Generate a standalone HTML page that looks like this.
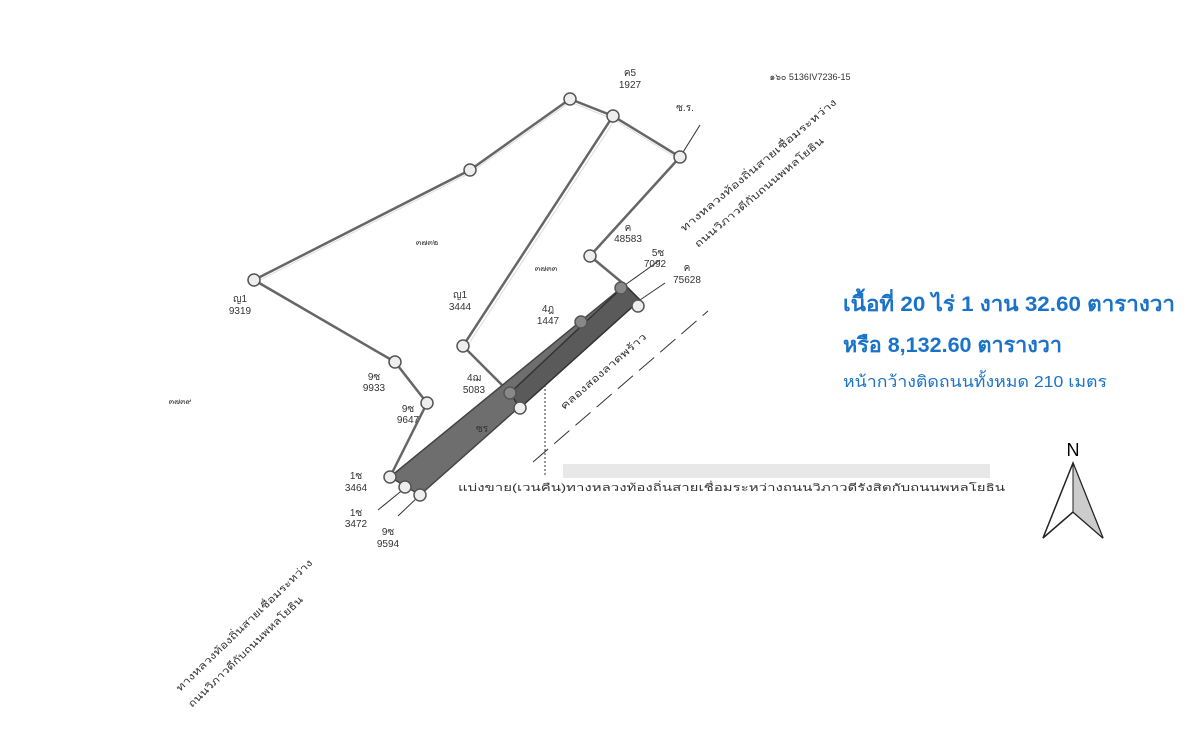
<!DOCTYPE html>
<html><head><meta charset="utf-8"><style>
html,body{margin:0;padding:0;background:#fff;width:1200px;height:737px;overflow:hidden}
svg{display:block}
.t{font-family:"Liberation Sans","DejaVu Sans",sans-serif;font-size:10px;fill:#333}
.b{font-family:"Liberation Sans","DejaVu Sans",sans-serif;fill:#1a73c8}
</style></head><body>
<svg width="1200" height="737" viewBox="0 0 1200 737" xmlns="http://www.w3.org/2000/svg">
<g stroke="#666" stroke-width="2.5" fill="none">
<polyline points="254,280 470,170 570,99 613,116 680,157"/>
<polyline points="613,116 463,346 510,393"/>
<polyline points="680,157 590,256 625,285"/>
<polyline points="254,280 395,362 427,403 390,477"/>
</g>
<g stroke="#ddd" stroke-width="1" fill="none">
<polyline points="254,283 470,173 570,102 613,119 680,160"/>
<polyline points="616,118 466,348"/>
</g>
<polygon points="390,477 625,285 640,300 420,495" fill="#6e6e6e" stroke="#444" stroke-width="1.5"/>
<polygon points="510,393 625,285 640,300 520,408" fill="#5a5a5a" stroke="#333" stroke-width="1.5"/>
<g stroke="#333" stroke-width="1" fill="none">
<line x1="680" y1="157" x2="700" y2="125"/>
<line x1="625" y1="285" x2="660" y2="260"/>
<line x1="640" y1="300" x2="665" y2="283"/>
<line x1="405" y1="488" x2="378" y2="510"/>
<line x1="420" y1="495" x2="398" y2="516"/>
<line x1="533" y1="462" x2="708" y2="311" stroke-dasharray="20,8"/>
<line x1="545" y1="385" x2="545" y2="477" stroke-dasharray="2,2"/>
</g>
<rect x="563" y="464" width="427" height="14" fill="#e8e8e8"/>
<g fill="#eee" stroke="#555" stroke-width="1.5">
<circle cx="254" cy="280" r="6"/><circle cx="470" cy="170" r="6"/><circle cx="570" cy="99" r="6"/>
<circle cx="613" cy="116" r="6"/><circle cx="680" cy="157" r="6"/><circle cx="463" cy="346" r="6"/>
<circle cx="590" cy="256" r="6"/><circle cx="395" cy="362" r="6"/><circle cx="427" cy="403" r="6"/>
<circle cx="390" cy="477" r="6"/><circle cx="405" cy="487" r="6"/><circle cx="420" cy="495" r="6"/>
<circle cx="510" cy="393" r="6" fill="#888"/><circle cx="520" cy="408" r="6"/><circle cx="581" cy="322" r="6" fill="#888"/>
<circle cx="621" cy="288" r="6" fill="#888"/><circle cx="638" cy="306" r="6"/>
</g>
<g class="t" text-anchor="middle">
<text x="630" y="76">ค5</text><text x="630" y="88">1927</text>
<text x="685" y="111">ซ.ร.</text>
<text x="810" y="80" font-size="9">๑๖๐  5136IV7236-15</text>
<text x="628" y="231">ค</text><text x="628" y="242">48583</text>
<text x="658" y="256">5ซ</text><text x="655" y="267">7092</text>
<text x="687" y="271">ค</text><text x="687" y="283">75628</text>
<text x="548" y="312">4ฎ</text><text x="548" y="324">1447</text>
<text x="460" y="298">ญ1</text><text x="460" y="310">3444</text>
<text x="474" y="381">4ฌ</text><text x="474" y="393">5083</text>
<text x="427" y="245" font-size="8">๓๗๓๒</text>
<text x="546" y="271" font-size="8">๓๗๓๓</text>
<text x="180" y="404" font-size="8">๓๗๓๙</text>
<text x="240" y="302">ญ1</text><text x="240" y="314">9319</text>
<text x="374" y="380">9ซ</text><text x="374" y="391">9933</text>
<text x="408" y="412">9ซ</text><text x="408" y="423">9647</text>
<text x="356" y="479">1ซ</text><text x="356" y="491">3464</text>
<text x="356" y="516">1ซ</text><text x="356" y="527">3472</text>
<text x="388" y="535">9ซ</text><text x="388" y="547">9594</text>
<text x="482" y="432">ซร</text>
</g>
<text class="t" font-size="13" textLength="110" lengthAdjust="spacingAndGlyphs" transform="translate(564,410) rotate(-41)" fill="#222">คลองสองลาดพร้าว</text>
<text class="t" x="458" y="491" font-size="16" textLength="547" lengthAdjust="spacingAndGlyphs" fill="#111">แบ่งขาย(เวนคืน)ทางหลวงท้องถิ่นสายเชื่อมระหว่างถนนวิภาวดีรังสิตกับถนนพหลโยธิน</text>
<g class="t" font-size="13" fill="#222">
<text textLength="200" lengthAdjust="spacingAndGlyphs" transform="translate(684,232) rotate(-40)">ทางหลวงท้องถิ่นสายเชื่อมระหว่าง</text>
<text textLength="165" lengthAdjust="spacingAndGlyphs" transform="translate(698,248) rotate(-40)">ถนนวิภาวดีกับถนนพหลโยธิน</text>
<text textLength="185" lengthAdjust="spacingAndGlyphs" transform="translate(180,692) rotate(-44)">ทางหลวงท้องถิ่นสายเชื่อมระหว่าง</text>
<text textLength="155" lengthAdjust="spacingAndGlyphs" transform="translate(192,708) rotate(-44)">ถนนวิภาวดีกับถนนพหลโยธิน</text>
</g>
<text class="b" x="843" y="311" font-size="21" font-weight="bold" textLength="332" lengthAdjust="spacingAndGlyphs">เนื้อที่  20 ไร่ 1 งาน 32.60 ตารางวา</text>
<text class="b" x="843" y="352" font-size="21" font-weight="bold" textLength="219" lengthAdjust="spacingAndGlyphs">หรือ 8,132.60 ตารางวา</text>
<text class="b" x="843" y="387" font-size="16" textLength="264" lengthAdjust="spacingAndGlyphs">หน้ากว้างติดถนนทั้งหมด  210 เมตร</text>
<text x="1073" y="456" font-family="Liberation Sans,sans-serif" font-size="18" text-anchor="middle">N</text>
<polygon points="1073,463 1043,538 1073,512 1103,538" fill="#fff" stroke="#222" stroke-width="1.5"/>
<polygon points="1073,463 1073,512 1103,538" fill="#ccc" stroke="#222" stroke-width="1"/>
</svg>
</body></html>
